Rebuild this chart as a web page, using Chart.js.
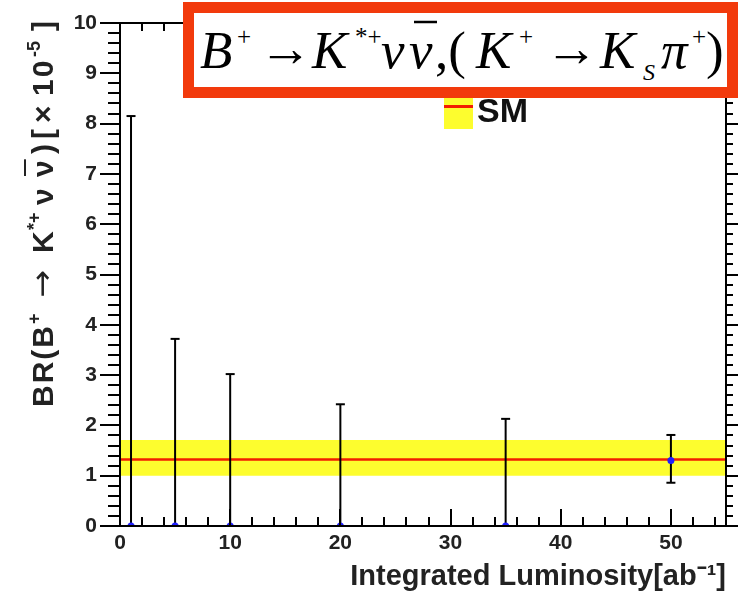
<!DOCTYPE html>
<html>
<head>
<meta charset="utf-8">
<script src="https://cdn.jsdelivr.net/npm/chart.js@4.4.0/dist/chart.umd.min.js"></script>
<style>
    html, body { margin: 0; padding: 0; background: #fff; }
    #wrap { position: relative; width: 739px; height: 595px; overflow: hidden; }
    #c { position: absolute; left: 0; top: 0; }
    #legBox { position: absolute; left: 444px; top: 83px; width: 29px; height: 46px; background: #fdfd2e; }
    #legBox div { position: absolute; left: 0; top: 22px; width: 29px; height: 3px; background: #f21d00; }
    #legText { position: absolute; left: 477px; top: 91px; font: bold 34px "Liberation Sans", Arial, sans-serif; color: #111; }
    #title { position: absolute; left: 0; top: 0; }
    #title text { font-family: "Liberation Serif", "Times New Roman", serif; fill: #000; }
    #title .it { font-style: italic; font-size: 53px; }
    #title .up { font-size: 53px; }
    #title .sp { font-size: 25px; }
    #title .sb { font-size: 24px; font-style: italic; }
</style>
</head>
<body>
<div id="wrap">
    <canvas id="c" width="739" height="595"></canvas>
    <div id="legBox"><div></div></div>
    <div id="legText">SM</div>
    <svg id="title" width="739" height="100">
        <rect x="188.5" y="7.5" width="544" height="85" fill="#fff" stroke="#f23a0c" stroke-width="11"/>
        <text class="it" x="200" y="68">B</text>
        <text class="sp" x="237" y="45">+</text>
        <text class="up" x="259" y="66" textLength="53" lengthAdjust="spacingAndGlyphs">→</text>
        <text class="it" x="312" y="68">K</text>
        <text class="sp" x="355" y="45">*+</text>
        <text class="it" x="381" y="68">ν</text>
        <text class="it" x="409" y="68">ν</text>
        <line x1="414" y1="22" x2="437" y2="22" stroke="#000" stroke-width="2.5"/>
        <text class="up" x="435" y="68">,(</text>
        <text class="it" x="476" y="68">K</text>
        <text class="sp" x="519" y="45">+</text>
        <text class="up" x="545" y="66" textLength="53" lengthAdjust="spacingAndGlyphs">→</text>
        <text class="it" x="600" y="68">K</text>
        <text class="sb" x="643" y="80">S</text>
        <text class="it" x="661" y="68">π</text>
        <text class="sp" x="692" y="45">+</text>
        <text class="up" x="706" y="68">)</text>
    </svg>
</div>
<script>
// measurements: integrated luminosity [ab^-1] and BR [x 10^-5]
const lumi = [1, 5, 10, 20, 35, 50];
const brCentral = [0, 0, 0, 0, 0, 1.30];
const brUpper = [8.15, 3.72, 3.02, 2.42, 2.13, 1.81];
const brLower = [0, 0, 0, 0, 0, 0.86];

// Standard Model prediction and its band
const smValue = 1.32;
const smLow = 1.0;
const smHigh = 1.71;

const xRange = [0, 55];
const yRange = [0, 10];
const xMajor = 10, xMinor = 2;
const yMajor = 1, yMinor = 0.2;

// y axis title pieces: [text, kind, offset along the axis from its lower end]
const yTitleParts = [
    ['BR(B', 'n', 0], ['+', 'sup', 83], ['\u2192', 'arrow', 109], ['K', 'n', 154], ['*+', 'sup', 177],
    ['\u03bd', 'n', 202], ['\u03bd', 'bar', 230], [')', 'n', 253], ['[', 'n', 268],
    ['\u00d7', 'n', 284], ['10', 'n', 311], ['-5', 'sup', 350], [']', 'n', 376]
];

const fontFamily = '"Liberation Sans", Arial, sans-serif';
const labelFont = { family: fontFamily, size: 21, weight: 'bold' };
const titleFont = { family: fontFamily, size: 29, weight: 'bold' };

// frame and ROOT-style ticks drawn off the chart scales
const frameTicks = {
    id: 'frameTicks',
    afterDraw(chart) {
        const { ctx, chartArea: a, scales: { x, y } } = chart;
        ctx.save();
        ctx.strokeStyle = '#000';
        ctx.lineWidth = 2;
        ctx.beginPath();
        ctx.rect(a.left, a.top, a.right - a.left, a.bottom - a.top);
        const nY = Math.round((yRange[1] - yRange[0]) / yMinor);
        for (let i = 0; i <= nY; i++) {
            const py = Math.round(y.getPixelForValue(yRange[0] + i * yMinor));
            const major = i % Math.round(yMajor / yMinor) === 0;
            ctx.moveTo(a.left - (major ? 20 : 12), py);
            ctx.lineTo(a.left, py);
            ctx.moveTo(a.right, py);
            ctx.lineTo(a.right + (major ? 12 : 7), py);
        }
        const nX = Math.floor((xRange[1] - xRange[0]) / xMinor);
        for (let i = 0; i <= nX; i++) {
            const v = xRange[0] + i * xMinor;
            const px = Math.round(x.getPixelForValue(v));
            const major = v % xMajor === 0;
            ctx.moveTo(px, a.bottom);
            ctx.lineTo(px, a.bottom - (major ? 17 : 9));
            ctx.moveTo(px, a.top);
            ctx.lineTo(px, a.top + (major ? 16 : 8));
        }
        ctx.stroke();

        // rotated y title, right-aligned to the top like ROOT
        ctx.translate(53, 407);
        ctx.rotate(-Math.PI / 2);
        ctx.fillStyle = '#222';
        ctx.textBaseline = 'alphabetic';
        yTitleParts.forEach(([txt, kind, pos]) => {
            ctx.letterSpacing = '0px';
            if (kind === 'sup') {
                ctx.font = 'bold 18px ' + fontFamily;
                ctx.fillText(txt, pos, -13);
            } else if (kind === 'arrow') {
                ctx.font = '30px "DejaVu Sans", sans-serif';
                const w = ctx.measureText(txt).width;
                ctx.save();
                ctx.translate(pos, -1);
                ctx.scale(28 / w, 1);
                ctx.fillText(txt, 0, 0);
                ctx.restore();
            } else {
                ctx.font = 'bold 30px ' + fontFamily;
                ctx.letterSpacing = '2px';
                ctx.fillText(txt, pos, 0);
                if (kind === 'bar') {
                    ctx.fillRect(pos + 1, -29, ctx.measureText(txt).width - 2, 2);
                }
            }
        });
        ctx.restore();
    }
};

const datasets = [];

// measured points (blue)
datasets.push({
    data: lumi.map((l, i) => ({ x: l, y: brCentral[i] })),
    showLine: false,
    pointRadius: 3.5,
    pointBackgroundColor: '#1f1fff',
    pointBorderColor: '#1f1fff',
    pointBorderWidth: 0,
    order: 0
});

// error bars with caps
lumi.forEach((l, i) => {
    datasets.push({
        data: [{ x: l, y: brLower[i] }, { x: l, y: brUpper[i] }],
        showLine: true,
        borderColor: '#000',
        borderWidth: 2,
        pointStyle: 'line',
        pointRadius: 4.5,
        pointBorderColor: '#000',
        pointBorderWidth: 2,
        order: 1
    });
});

// SM central value
datasets.push({
    data: [{ x: xRange[0], y: smValue }, { x: xRange[1], y: smValue }],
    showLine: true,
    borderColor: '#f21d00',
    borderWidth: 2.5,
    pointRadius: 0,
    order: 2
});

// SM band
datasets.push({
    data: [{ x: xRange[0], y: smHigh }, { x: xRange[1], y: smHigh }],
    showLine: true,
    borderWidth: 0,
    pointRadius: 0,
    fill: false,
    order: 3
});
datasets.push({
    data: [{ x: xRange[0], y: smLow }, { x: xRange[1], y: smLow }],
    showLine: true,
    borderWidth: 0,
    pointRadius: 0,
    fill: '-1',
    backgroundColor: '#fdfd2e',
    order: 3
});

new Chart(document.getElementById('c'), {
    type: 'scatter',
    data: { datasets },
    options: {
        responsive: false,
        animation: false,
        layout: { autoPadding: false, padding: { left: 0, top: 23, right: 13, bottom: 0 } },
        plugins: { legend: { display: false }, tooltip: { enabled: false } },
        scales: {
            x: {
                type: 'linear',
                min: xRange[0],
                max: xRange[1],
                afterFit: s => { s.height = 69; s.paddingLeft = 0; s.paddingRight = 0; },
                grid: { display: false, drawTicks: false },
                border: { display: false },
                ticks: {
                    stepSize: xMajor,
                    padding: 5,
                    color: '#222',
                    font: labelFont,
                    callback: v => (v % xMajor === 0 ? v : '')
                },
                title: {
                    display: true,
                    text: 'Integrated Luminosity[ab⁻¹]',
                    align: 'end',
                    color: '#222',
                    font: titleFont,
                    padding: { top: 0, bottom: 1 }
                }
            },
            y: {
                type: 'linear',
                min: yRange[0],
                max: yRange[1],
                afterFit: s => { s.width = 120; s.paddingTop = 0; s.paddingBottom = 0; },
                grid: { display: false, drawTicks: false },
                border: { display: false },
                ticks: {
                    stepSize: yMajor,
                    padding: 23,
                    color: '#222',
                    font: labelFont
                }
            }
        }
    },
    plugins: [frameTicks]
});
</script>
</body>
</html>
